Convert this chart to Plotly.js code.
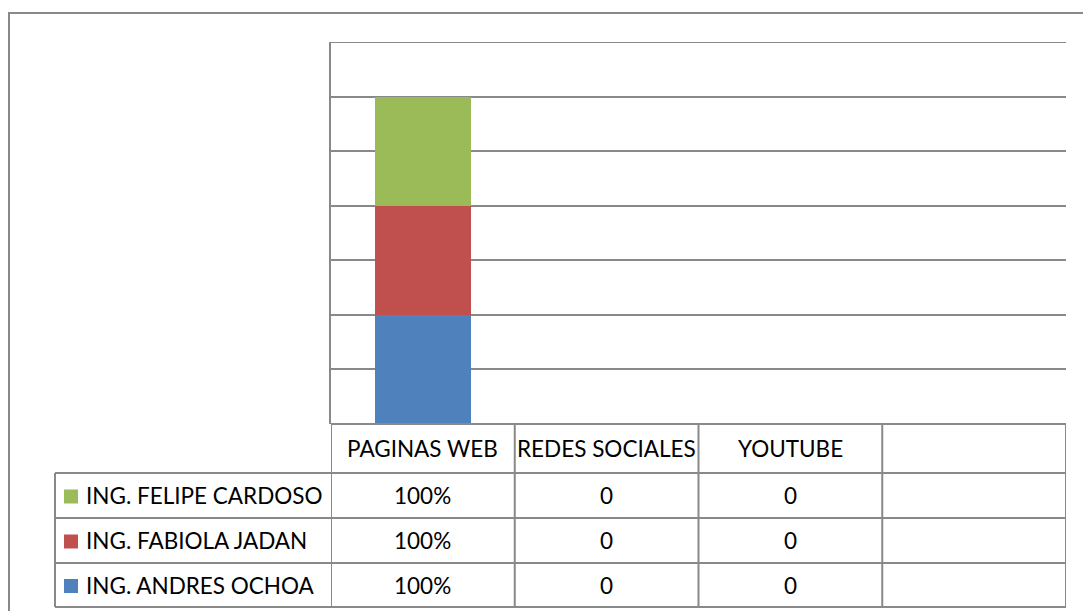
<!DOCTYPE html>
<html>
<head>
<meta charset="utf-8">
<script src="https://cdn.plot.ly/plotly-3.0.1.min.js"></script>
<style>html,body{margin:0;padding:0;background:#fff;}#chart{width:1083px;height:611px;}</style>
</head>
<body>
<div id="chart"></div>
<script>
// ---- data ----
const categories = ['PAGINAS WEB', 'REDES SOCIALES', 'YOUTUBE'];
const seriesNames = ['ING. ANDRES OCHOA', 'ING. FABIOLA JADAN', 'ING. FELIPE CARDOSO'];
const andresOchoa = [100, 0, 0];
const fabiolaJadan = [100, 0, 0];
const felipeCardoso = [100, 0, 0];
const andresLabels = ['100%', '0', '0'];
const fabiolaLabels = ['100%', '0', '0'];
const felipeLabels = ['100%', '0', '0'];
const yTicks = [0, 50, 100, 150, 200, 250, 300, 350];

// ---- layout helpers (pixel geometry) ----
const W = 1083, H = 611;
const L = 331, R = 1066, T = 42, B = 424;
const pw = R - L, ph = B - T;
const xp = px => (px - L) / pw;
const yp = py => (B - py) / ph;
const colors = ['#4F81BD', '#C0504D', '#9BBB59'];
const lineCol = '#898989';
const font = {family: 'Lato, "Open Sans", sans-serif', size: 22.5, color: '#000'};

const seriesVals = [andresOchoa, fabiolaJadan, felipeCardoso];
const seriesLabels = [andresLabels, fabiolaLabels, felipeLabels];

const traces = seriesVals.map((v, i) => ({
  type: 'bar', x: categories, y: v, name: seriesNames[i],
  marker: {color: colors[i], line: {width: 0}}, hoverinfo: 'none'
}));

// table geometry: header row and three data rows (top row = Felipe)
const rowTops = [B, 473, 518, 563, 607];
const tableLeft = 55;
const shapes = [];
// outer chart border
shapes.push({type: 'rect', xref: 'paper', yref: 'paper', x0: xp(9), x1: xp(1100), y0: yp(13), y1: yp(630), line: {color: lineCol, width: 2}});
// top gridline of plot area
shapes.push({type: 'line', xref: 'paper', yref: 'y', x0: 0, x1: 1, y0: yTicks[yTicks.length - 1], y1: yTicks[yTicks.length - 1], line: {color: lineCol, width: 2}});
// horizontal table lines
shapes.push({type: 'line', xref: 'paper', yref: 'paper', x0: xp(L), x1: xp(R), y0: yp(B), y1: yp(B), line: {color: lineCol, width: 2}});
for (let r = 1; r < rowTops.length; r++) {
  shapes.push({type: 'line', xref: 'paper', yref: 'paper', x0: xp(tableLeft), x1: xp(R), y0: yp(rowTops[r]), y1: yp(rowTops[r]), line: {color: lineCol, width: 2}});
}
// vertical table lines at category boundaries
for (let k = 0; k <= 4; k++) {
  shapes.push({type: 'line', xref: 'x', yref: 'paper', x0: k - 0.5, x1: k - 0.5, y0: yp(B), y1: yp(rowTops[4]), line: {color: lineCol, width: 2}});
}
shapes.push({type: 'line', xref: 'paper', yref: 'paper', x0: xp(tableLeft), x1: xp(tableLeft), y0: yp(rowTops[1]), y1: yp(rowTops[4]), line: {color: lineCol, width: 2}});

const annotations = [];
// header labels
categories.forEach(c => annotations.push({xref: 'x', yref: 'paper', x: c, y: yp((rowTops[0] + rowTops[1]) / 2), text: c, showarrow: false, font: font, xanchor: 'center', yanchor: 'middle'}));
// rows: top row is last series
const rowOrder = [2, 1, 0];
rowOrder.forEach((s, r) => {
  const cy = (rowTops[r + 1] + rowTops[r + 2]) / 2;
  shapes.push({type: 'rect', xref: 'paper', yref: 'paper', x0: xp(64), x1: xp(78), y0: yp(cy - 6), y1: yp(cy + 8), fillcolor: colors[s], line: {width: 0}});
  annotations.push({xref: 'paper', yref: 'paper', x: xp(84), y: yp(cy), text: seriesNames[s], showarrow: false, font: font, xanchor: 'left', yanchor: 'middle'});
  categories.forEach((c, j) => annotations.push({xref: 'x', yref: 'paper', x: c, y: yp(cy), text: seriesLabels[s][j], showarrow: false, font: font, xanchor: 'center', yanchor: 'middle'}));
});

const layout = {
  width: W, height: H,
  margin: {l: L, r: W - R, t: T, b: H - B, pad: 0},
  paper_bgcolor: '#fff', plot_bgcolor: '#fff',
  barmode: 'stack', bargap: 0.48,
  showlegend: false,
  font: font,
  xaxis: {type: 'category', range: [-0.5, 3.5], showticklabels: false, ticks: '', showgrid: false, zeroline: false, showline: false, fixedrange: true},
  yaxis: {range: [0, 350], tickvals: yTicks, showticklabels: false, ticks: '', showgrid: true, gridcolor: lineCol, gridwidth: 2, zeroline: false, showline: true, linecolor: lineCol, linewidth: 2, fixedrange: true},
  shapes: shapes,
  annotations: annotations
};

Plotly.newPlot('chart', traces, layout, {displayModeBar: false, staticPlot: true});
</script>
</body>
</html>
